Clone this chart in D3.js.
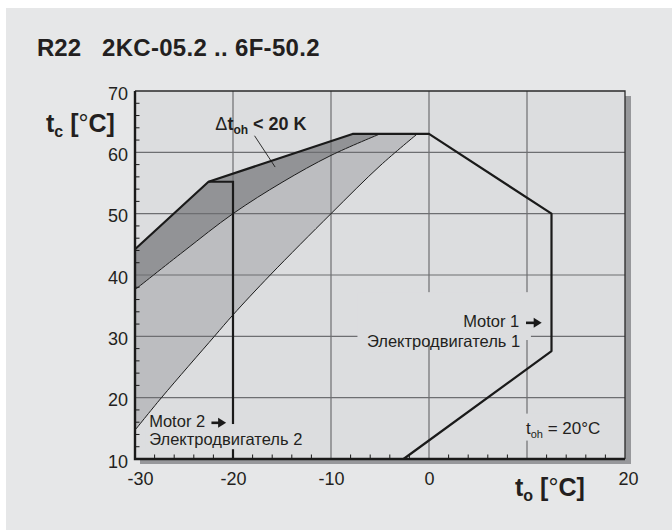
<!DOCTYPE html>
<html>
<head>
<meta charset="utf-8">
<script src="https://cdn.jsdelivr.net/npm/d3@7"></script>
<style>
  body { margin: 0; background: #fff; }
  svg text { font-family: "Liberation Sans", Arial, Helvetica, sans-serif; fill: #231f20; }
</style>
</head>
<body>
<div id="chart"></div>
<script>
// chart values
const xTicks = [-30, -20, -10, 0, 20]; // 10 is left unlabelled (axis title sits there)
const yTicks = [10, 20, 30, 40, 50, 60, 70];
const xGrid = [-20, -10, 0, 10];
const yGrid = [20, 30, 40, 50, 60];

// Motor 1 envelope (to, tc)
const motor1 = [[-30, 44.2], [-22.5, 55.2], [-7.8, 63], [0, 63], [12.5, 50], [12.5, 27.6], [-2.6, 10]];
// Motor 2 limit
const motor2 = [[-22.5, 55.2], [-20, 55.2], [-20, 10]];
// delta t_oh < 20 K boundary
const curve20K = [[-30, 37.6], [-25, 43.9], [-20, 50], [-15, 55.1], [-10, 59.5], [-5, 63]];
// t_oh = 20 C boundary
const curveToh = [[-30, 14.7], [-27.3, 20], [-21.9, 30], [-20, 33.5], [-16.2, 40], [-10, 50], [-5, 57.8], [-1.2, 63]];

const width = 672, height = 530;
const svg = d3.select('#chart').append('svg')
    .attr('width', width)
    .attr('height', height);

const x = d3.scaleLinear().domain([-30, 20]).range([135, 625]);
const y = d3.scaleLinear().domain([10, 70]).range([459, 91]);

// background panel
svg.append('rect').attr('width', width).attr('height', height).attr('fill', '#fff');
svg.append('rect').attr('x', 6).attr('y', 8).attr('width', width - 6).attr('height', height - 8).attr('fill', '#e6e7e8');

// title
svg.append('text').attr('x', 37).attr('y', 56)
    .style('font-size', '24px').style('font-weight', 'bold').text('R22');
svg.append('text').attr('x', 102).attr('y', 56)
    .style('font-size', '24px').style('font-weight', 'bold').style('letter-spacing', '0.3px')
    .text('2KC-05.2 .. 6F-50.2');

// shadow
svg.append('rect').attr('x', x(20)).attr('y', y(70) + 5).attr('width', 6).attr('height', y(10) - y(70))
    .attr('fill', '#97989b');
svg.append('rect').attr('x', x(-30) + 5).attr('y', y(10)).attr('width', x(20) - x(-30) + 1).attr('height', 5)
    .attr('fill', '#97989b');

// plot background
svg.append('rect').attr('x', x(-30)).attr('y', y(70))
    .attr('width', x(20) - x(-30)).attr('height', y(10) - y(70))
    .attr('fill', '#dcdddf');

const straight = d3.line().x(d => x(d[0])).y(d => y(d[1]));
const smooth = d3.line().x(d => x(d[0])).y(d => y(d[1])).curve(d3.curveCatmullRom);

// dark region: between envelope top and 20 K curve
const topEdge = motor1.slice(0, 3).concat([curve20K[curve20K.length - 1]]);
const darkPath = straight(topEdge) + smooth(curve20K.slice().reverse()).replace(/^M/, 'L') + 'Z';
svg.append('path').attr('d', darkPath).attr('fill', '#929396');

// medium region: between 20 K curve and t_oh curve
const midPath = smooth(curve20K) + 'L' + x(curveToh[curveToh.length - 1][0]) + ',' + y(curveToh[curveToh.length - 1][1])
    + smooth(curveToh.slice().reverse()).replace(/^M/, 'L') + 'Z';
svg.append('path').attr('d', midPath).attr('fill', '#bcbdc0');

// grid
svg.append('g').selectAll('line').data(xGrid).join('line')
    .attr('x1', d => x(d)).attr('x2', d => x(d))
    .attr('y1', y(70)).attr('y2', y(10))
    .attr('stroke', '#6d6e71').attr('stroke-width', 1.2);
svg.append('g').selectAll('line').data(yGrid).join('line')
    .attr('x1', x(-30)).attr('x2', x(20))
    .attr('y1', d => y(d)).attr('y2', d => y(d))
    .attr('stroke', '#6d6e71').attr('stroke-width', 1.2);

// curves
svg.append('path').attr('d', smooth(curve20K)).attr('fill', 'none').attr('stroke', '#1a1a1a').attr('stroke-width', 1);
svg.append('path').attr('d', smooth(curveToh)).attr('fill', 'none').attr('stroke', '#1a1a1a').attr('stroke-width', 1);

// envelopes
svg.append('path').attr('d', straight(motor1)).attr('fill', 'none')
    .attr('stroke', '#1a1a1a').attr('stroke-width', 2.2).attr('stroke-linejoin', 'round');
svg.append('path').attr('d', straight(motor2)).attr('fill', 'none')
    .attr('stroke', '#1a1a1a').attr('stroke-width', 2.2).attr('stroke-linejoin', 'miter');

// frame
svg.append('path')
    .attr('d', `M${x(-30)},${y(70)}H${x(20)}V${y(10)}`)
    .attr('fill', 'none').attr('stroke', '#2a2a2a').attr('stroke-width', 1.3);
svg.append('path')
    .attr('d', `M${x(-30)},${y(70)}V${y(10)}H${x(20)}`)
    .attr('fill', 'none').attr('stroke', '#1a1a1a').attr('stroke-width', 2.4);

// minor ticks
const xMinor = d3.range(-28, 20, 2).filter(d => d % 10 !== 0);
const yMinor = d3.range(12, 70, 2).filter(d => d % 10 !== 0);
svg.append('g').selectAll('line').data(xMinor).join('line')
    .attr('x1', d => x(d)).attr('x2', d => x(d))
    .attr('y1', y(10)).attr('y2', y(10) - 4.5)
    .attr('stroke', '#1a1a1a').attr('stroke-width', 1);
svg.append('g').selectAll('line').data(yMinor).join('line')
    .attr('x1', x(-30)).attr('x2', x(-30) + 4.5)
    .attr('y1', d => y(d)).attr('y2', d => y(d))
    .attr('stroke', '#1a1a1a').attr('stroke-width', 1);

// axes labels
const xAxis = svg.append('g').attr('transform', `translate(0,${y(10)})`)
    .call(d3.axisBottom(x).tickValues(xTicks).tickSize(0).tickPadding(13).tickFormat(d => String(d)));
xAxis.select('.domain').remove();
xAxis.selectAll('text').style('font-size', '18px')
    .attr('dx', d => d === -30 ? 5 : (d === 20 ? 3 : 0));

const yAxis = svg.append('g').attr('transform', `translate(${x(-30)},0)`)
    .call(d3.axisLeft(y).tickValues(yTicks).tickSize(0).tickPadding(7).tickFormat(d => String(d)));
yAxis.select('.domain').remove();
yAxis.selectAll('text').style('font-size', '18px').attr('dy', '0.46em');

// axis titles
function axisTitle(px, py, sub) {
    const t = svg.append('text').attr('x', px).attr('y', py)
        .style('font-size', '25px').style('font-weight', 'bold');
    t.append('tspan').text('t');
    t.append('tspan').attr('dy', 5).style('font-size', '16px').text(sub);
    t.append('tspan').attr('dy', -5).text(' [');
    t.append('tspan').style('font-weight', 'normal').text('°');
    t.append('tspan').text('C]');
}
axisTitle(46, 132, 'c');
axisTitle(515, 496, 'o');

// label backgrounds (cover grid and motor 2 line)
const bg = '#dcdddf';
svg.append('rect').attr('x', x(-28.9)).attr('y', y(15.7)).attr('width', x(-13.4) - x(-28.9)).attr('height', y(11.6) - y(15.7)).attr('fill', bg);
svg.append('rect').attr('x', x(-7.3)).attr('y', y(37.2)).attr('width', x(10.4) - x(-7.3)).attr('height', y(29.4) - y(37.2)).attr('fill', bg);
svg.append('rect').attr('x', x(9.6)).attr('y', y(17.4)).attr('width', x(18.6) - x(9.6)).attr('height', y(13.0) - y(17.4)).attr('fill', bg);

// delta t_oh label and leader
svg.append('line').attr('x1', x(-17.8)).attr('y1', y(62.7)).attr('x2', x(-15.7)).attr('y2', y(57.6))
    .attr('stroke', '#1a1a1a').attr('stroke-width', 0.9);
const dt = svg.append('text').attr('x', x(-21.8)).attr('y', y(63.7))
    .style('font-size', '18px').style('font-weight', 'bold');
dt.append('tspan').style('font-weight', 'normal').text('Δ');
dt.append('tspan').text('t');
dt.append('tspan').attr('dy', 4).style('font-size', '12px').text('oh');
dt.append('tspan').attr('dy', -4).text(' < 20 K');

// motor labels
const lab = 16.5;
svg.append('text').attr('x', x(-28.55)).attr('y', y(15.2)).style('font-size', lab + 'px').text('Motor 2');
svg.append('text').attr('x', x(-28.55)).attr('y', y(12.3)).style('font-size', lab + 'px').text('Электродвигатель 2');
svg.append('text').attr('x', x(9.2)).attr('y', y(31.5)).attr('text-anchor', 'end').style('font-size', lab + 'px').text('Motor 1');
svg.append('text').attr('x', x(9.3)).attr('y', y(28.2)).attr('text-anchor', 'end').style('font-size', lab + 'px').text('Электродвигатель 1');

function arrow(x0, x1, yc) {
    svg.append('line').attr('x1', x0).attr('x2', x1 - 6).attr('y1', yc).attr('y2', yc)
        .attr('stroke', '#1a1a1a').attr('stroke-width', 2.6);
    svg.append('path').attr('d', `M${x1 - 8},${yc - 5}L${x1},${yc}L${x1 - 8},${yc + 5}Z`).attr('fill', '#1a1a1a');
}
arrow(x(-22.2), x(-20.7), y(15.9));
arrow(x(9.9), x(11.5), y(32.2));

const toh = svg.append('text').attr('x', x(9.9)).attr('y', y(14.1)).style('font-size', '17px');
toh.append('tspan').text('t');
toh.append('tspan').attr('dy', 4).style('font-size', '11px').text('oh');
toh.append('tspan').attr('dy', -4).text(' = 20°C');
</script>
</body>
</html>
